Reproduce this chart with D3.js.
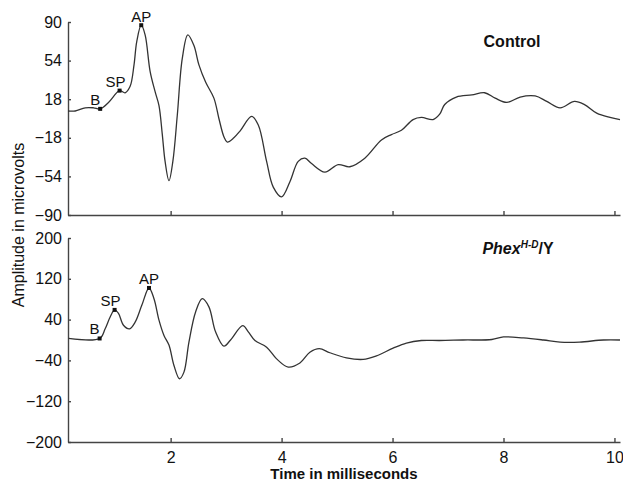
<!DOCTYPE html>
<html lang="en">
  <head>
    <meta charset="utf-8" />
    <title>Auditory brainstem response</title>
    <style>
      body { margin: 0; background: #fff; }
      svg text { font-family: "Liberation Sans", Arial, sans-serif; fill: #111; }
      .axis path, .axis line { stroke: #444; stroke-width: 1.4; }
      .axis text { font-size: 16px; fill: #111; }
    </style>
  </head>
  <body>
    <div id="chart"></div>
    <script src="https://d3js.org/d3.v7.min.js"></script>
    <script>
      // Control trace (time in ms, amplitude in microvolts)
      const timeControl = [0.15,0.28,0.46,0.61,0.73,0.88,1.08,1.18,1.27,1.34,1.39,1.47,1.54,1.63,1.72,1.79,1.85,1.90,1.97,2.04,2.12,2.21,2.31,2.42,2.51,2.63,2.78,2.87,2.96,3.02,3.14,3.26,3.46,3.58,3.73,3.85,4.00,4.15,4.30,4.42,4.54,4.78,5.02,5.23,5.50,5.80,5.98,6.16,6.37,6.52,6.73,6.85,6.94,7.15,7.43,7.66,7.85,8.06,8.30,8.57,8.78,9.02,9.28,9.46,9.68,9.92,10.1];
      const ampControl = [7,7,10,10,9,15,26,24,30,50,72,87,78,44,25,12,-15,-40,-58,-40,3,56,78,68,50,34,19,0,-17,-22,-18,-11,2,-6,-40,-64,-73,-59,-40,-37,-42,-50,-43,-45,-37,-20,-15,-11,-1,1,-1,4,13,20,22,24,19,15,20,21,16,10,16,13,5,1,-1];

      // Phex H-D/Y trace
      const timeMutant = [0.16,0.72,0.82,0.91,0.99,1.06,1.15,1.26,1.36,1.48,1.61,1.70,1.79,1.88,1.97,2.06,2.16,2.24,2.33,2.45,2.57,2.69,2.81,2.96,3.08,3.30,3.40,3.52,3.73,3.91,4.12,4.33,4.51,4.68,4.87,5.17,5.47,5.71,6.01,6.25,6.52,6.85,7.27,7.79,8.00,8.36,8.72,9.02,9.37,9.80,10.1];
      const ampMutant = [3,3,22,45,59,52,29,22,35,68,102,81,39,9,-10,-50,-76,-63,-4,55,81,65,16,-12,0,28,16,-1,-14,-37,-53,-45,-24,-17,-25,-35,-38,-31,-16,-6,-1,-1,0,1,6,4,0,-4,-4,0,0];

      // marked points (B, SP, AP)
      const markLabels = ["B", "SP", "AP"];
      const markTimesControl = [0.73, 1.08, 1.47];
      const markTimesMutant = [0.72, 0.99, 1.61];

      const xTicks = [2, 4, 6, 8, 10];
      const yTicksControl = [-90, -54, -18, 18, 54, 90];
      const yTicksMutant = [-200, -120, -40, 40, 120, 200];

      const width = 623, height = 486;
      const left = 68, right = 620;

      const svg = d3.select("#chart").append("svg")
        .attr("width", width).attr("height", height);

      const x = d3.scaleLinear().domain([0.15, 10.1]).range([left, right]);

      // offsets of the B/SP/AP labels relative to their marker
      const labelOffsets = [[-5, -4], [-4, -4], [0, -3.5]];

      const drawPanel = (opts) => {
        const y = d3.scaleLinear().domain(opts.domain).range([opts.bottom, opts.top]);

        svg.append("g").attr("class", "axis")
          .attr("transform", `translate(${left},0)`)
          .call(d3.axisLeft(y).tickValues(opts.yTicks).tickSizeInner(-3).tickSizeOuter(0).tickPadding(6));

        const xa = d3.axisBottom(x).tickValues(xTicks).tickSizeInner(-4).tickSizeOuter(0).tickPadding(10)
          .tickFormat(opts.showX ? d3.format("d") : "");
        svg.append("g").attr("class", "axis")
          .attr("transform", `translate(0,${opts.bottom})`)
          .call(xa);

        const pts = opts.times.map((t, i) => [t, opts.amps[i]]);
        svg.append("path")
          .datum(pts)
          .attr("fill", "none")
          .attr("stroke", "#333")
          .attr("stroke-width", 1.3)
          .attr("d", d3.line().x(d => x(d[0])).y(d => y(d[1])).curve(d3.curveCatmullRom.alpha(0.5)));

        opts.marks.forEach((t, i) => {
          const v = opts.amps[opts.times.indexOf(t)];
          svg.append("rect")
            .attr("x", x(t) - 2).attr("y", y(v) - 2)
            .attr("width", 4).attr("height", 4)
            .attr("fill", "#111");
          svg.append("text")
            .attr("x", x(t) + labelOffsets[i][0])
            .attr("y", y(v) + labelOffsets[i][1])
            .attr("text-anchor", "middle")
            .style("font-size", "15px")
            .text(markLabels[i]);
        });
      };

      drawPanel({ domain: [-90, 90], top: 22, bottom: 215, yTicks: yTicksControl,
        times: timeControl, amps: ampControl, marks: markTimesControl, showX: false });
      drawPanel({ domain: [-200, 200], top: 238, bottom: 442, yTicks: yTicksMutant,
        times: timeMutant, amps: ampMutant, marks: markTimesMutant, showX: true });

      // panel titles
      svg.append("text")
        .attr("x", 512).attr("y", 47)
        .attr("text-anchor", "middle")
        .style("font-size", "16px").style("font-weight", "bold")
        .text("Control");

      const phex = svg.append("text")
        .attr("x", 518).attr("y", 254)
        .attr("text-anchor", "middle")
        .style("font-size", "16px").style("font-weight", "bold");
      phex.append("tspan").style("font-style", "italic").text("Phex");
      phex.append("tspan").attr("dy", -6).style("font-size", "10px").style("font-style", "italic")
        .text("H-D");
      phex.append("tspan").attr("dy", 6).text("/Y");

      // axis titles
      svg.append("text")
        .attr("x", 344).attr("y", 479)
        .attr("text-anchor", "middle")
        .style("font-size", "15px").style("font-weight", "bold")
        .text("Time in milliseconds");

      svg.append("text")
        .attr("transform", "translate(24,225) rotate(-90)")
        .attr("text-anchor", "middle")
        .style("font-size", "16px")
        .text("Amplitude in microvolts");
    </script>
  </body>
</html>
